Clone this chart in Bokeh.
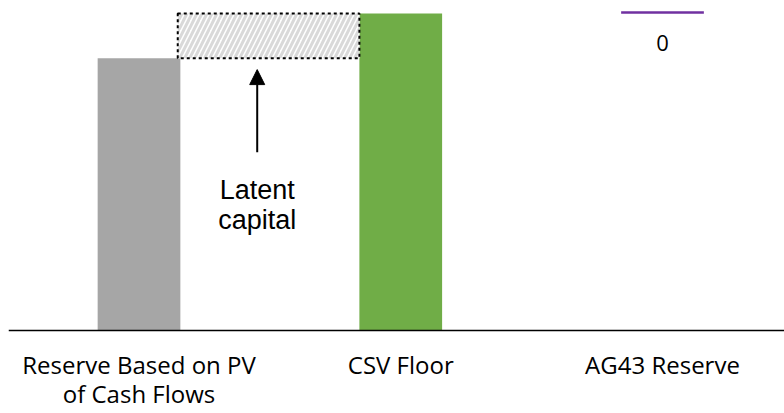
from bokeh.plotting import figure
from bokeh.models import Range1d, Arrow, NormalHead, Span
from bokeh.core.properties import value
from bokeh.embed import file_html
from bokeh.resources import INLINE

# ---- data ----
categories = ["Reserve Based on PV\nof Cash Flows", "CSV Floor", "AG43 Reserve"]
bar_values = [85.9, 100.0]          # grey bar, green bar
bar_colors = ["#a6a6a6", "#70ad47"]
ag43_level = [100.3]                # purple marker level
ag43_label = ["0"]
latent_low = 85.9
latent_high = 100.0
arrow_from = 56.2
arrow_to = 82.3

W, H = 784, 413
p = figure(width=W, height=H, output_backend="svg", toolbar_location=None,
           x_range=Range1d(-0.4986, 2.4661), y_range=Range1d(-26.18, 104.1),
           min_border_left=8, min_border_right=0, min_border_top=0,
           min_border_bottom=0)
p.outline_line_color = None
p.background_fill_color = "white"
p.border_fill_color = "white"
p.grid.visible = False
p.axis.visible = False

xs = list(range(len(categories)))
bw = 0.316

# baseline (category axis line)
p.add_layout(Span(location=0, dimension="width", line_color="black", line_width=1.5))

# bars
p.vbar(x=xs[:2], top=bar_values, width=bw, bottom=0, color=bar_colors, line_color=None)

# latent capital hatched box
p.quad(left=[xs[0] + bw / 2 - 0.01], right=[xs[1] - bw / 2], bottom=[latent_low], top=[latent_high],
       fill_color="white", fill_alpha=1.0, line_color="black", line_width=2, line_dash="3 3",
       hatch_pattern="/", hatch_color="#d9d9d9", hatch_weight=3, hatch_scale=10)

# AG43 purple marker
p.segment(x0=[xs[2] - bw / 2], x1=[xs[2] + bw / 2], y0=ag43_level, y1=ag43_level,
          line_color="#7030a0", line_width=2.5)
p.text(x=[xs[2]], y=[90.6], text=ag43_label, text_align="center",
       text_baseline="middle", text_font=value("Open Sans"), text_font_size="22px", text_color="black")

# arrow
p.add_layout(Arrow(end=NormalHead(size=15, fill_color="black", line_color="black"),
                   x_start=0.4516, y_start=arrow_from, x_end=0.4516, y_end=arrow_to,
                   line_color="black", line_width=2))
p.text(x=[0.4516], y=[48.9], text=["Latent\ncapital"], text_align="center", text_baseline="top",
       text_font=value("Liberation Sans"), text_font_size="27px", text_color="black",
       text_line_height=1.0)

# category labels
p.text(x=xs, y=[-5.6] * len(xs), text=categories, text_align="center", text_baseline="top",
       text_font=value("Open Sans"), text_font_size="24px", text_color="black",
       text_line_height=0.88)

open("out.html", "w").write(file_html(p, INLINE))
